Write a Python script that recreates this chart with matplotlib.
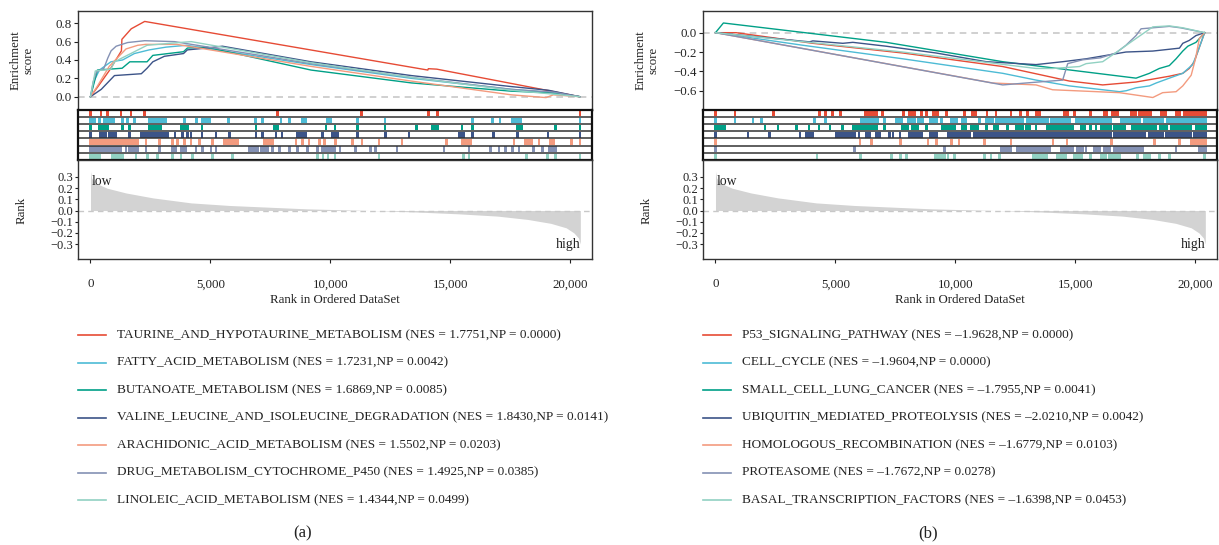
import matplotlib
matplotlib.use("Agg")
import matplotlib.pyplot as plt
from matplotlib.lines import Line2D
import numpy as np

plt.rcParams["font.family"] = ["Liberation Serif", "DejaVu Serif"]

# colours (npg palette), one per gene set, top row first
colors = ['#E64B35', '#4DBBD5', '#00A087', '#3C5488', '#F39B7F', '#8491B4', '#91D1C2']

# ranked list metric (same list for both)
rank_x = [0, 50, 200, 690, 1480, 2600, 4200, 5800, 7400, 9000, 10580, 12180,
          13770, 15370, 16970, 18240, 19200, 19840, 20160, 20350, 20430]
rank_y = [0.35, 0.29, 0.246, 0.20, 0.157, 0.113, 0.068, 0.045, 0.030, 0.015, 0.006,
          -0.003, -0.015, -0.03, -0.05, -0.08, -0.115, -0.155, -0.20, -0.245, -0.30]

xticks = [0, 5000, 10000, 15000, 20000]
xticklabels = ['0', '5,000', '10,000', '15,000', '20,000']

# ---------------- panel (a) ----------------
a_names = ['TAURINE_AND_HYPOTAURINE_METABOLISM', 'FATTY_ACID_METABOLISM',
           'BUTANOATE_METABOLISM', 'VALINE_LEUCINE_AND_ISOLEUCINE_DEGRADATION',
           'ARACHIDONIC_ACID_METABOLISM', 'DRUG_METABOLISM_CYTOCHROME_P450',
           'LINOLEIC_ACID_METABOLISM']
a_nes = [1.7751, 1.7231, 1.6869, 1.8430, 1.5502, 1.4925, 1.4344]
a_np = [0.0000, 0.0042, 0.0085, 0.0141, 0.0203, 0.0385, 0.0499]

a_es_x = [
    [0, 310, 800, 1290, 1310, 1700, 2260, 14070, 14090, 14440, 17830, 20400],
    [0, 150, 370, 850, 1340, 1830, 2450, 3150, 4000, 9200, 13380, 17550, 19400, 20400],
    [0, 290, 1320, 1640, 2360, 2600, 3880, 4040, 4840, 9200, 13380, 17550, 19400, 20400],
    [0, 450, 1000, 2120, 2360, 2600, 3080, 3880, 4040, 4840, 5500, 9200, 13380, 17550, 19100, 20400],
    [0, 300, 780, 1480, 1970, 2300, 3600, 9200, 13380, 17550, 19000, 19300, 20400],
    [0, 110, 250, 560, 720, 860, 1070, 1550, 2260, 3500, 9200, 13380, 17550, 19300, 20400],
    [0, 200, 850, 1000, 2360, 3700, 4200, 9200, 13380, 17550, 19200, 20400],
]
a_es_y = [
    [0, 0.11, 0.29, 0.50, 0.625, 0.74, 0.82, 0.29, 0.305, 0.30, 0.13, 0.0],
    [0, 0.17, 0.29, 0.38, 0.40, 0.47, 0.51, 0.54, 0.56, 0.35, 0.20, 0.08, 0.04, 0.0],
    [0, 0.29, 0.31, 0.38, 0.38, 0.45, 0.49, 0.53, 0.54, 0.29, 0.15, 0.06, 0.04, 0.0],
    [0, 0.08, 0.23, 0.25, 0.31, 0.38, 0.44, 0.47, 0.51, 0.53, 0.55, 0.38, 0.23, 0.11, 0.07, 0.0],
    [0, 0.12, 0.33, 0.52, 0.56, 0.57, 0.57, 0.33, 0.17, 0.02, -0.01, 0.02, 0.0],
    [0, 0.16, 0.27, 0.31, 0.42, 0.50, 0.55, 0.59, 0.61, 0.60, 0.36, 0.21, 0.08, 0.05, 0.0],
    [0, 0.28, 0.30, 0.38, 0.56, 0.59, 0.60, 0.37, 0.21, 0.07, 0.03, 0.0],
]

# hit positions as (start, end) ranges in the ranked list
a_hits = [
    [(0, 0), (440, 440), (720, 720), (1270, 1270), (1690, 1690), (2240, 2240), (7810, 7810),
     (11290, 11290), (14090, 14090), (14460, 14460), (20410, 20410)],
    [(0, 160), (370, 370), (575, 855), (950, 950), (1340, 1340), (1550, 1550), (1830, 1830),
     (2450, 3150), (3910, 3910), (4430, 4430), (4680, 4960), (5760, 5760), (6870, 6870),
     (7180, 7180), (7940, 7940), (8290, 8290), (8850, 8990), (9890, 10030), (11130, 11130),
     (12280, 12280), (15920, 15920), (16780, 16780), (17080, 17080), (17590, 17940), (20410, 20410)],
    [(0, 0), (370, 720), (1340, 1340), (1620, 1620), (2450, 2940), (3770, 4050), (4650, 4650),
     (6900, 6900), (7660, 7810), (9820, 9820), (10200, 10200), (11130, 11130), (12280, 12280),
     (13600, 13600), (14250, 14490), (15500, 15500), (15920, 15920), (17800, 18000),
     (19400, 19400), (20410, 20410)],
    [(0, 0), (400, 650), (790, 1040), (1620, 1620), (2110, 2660), (2730, 3080), (3220, 3220),
     (3520, 3520), (3850, 3850), (4050, 4050), (4190, 4190), (4650, 4650), (5230, 5230),
     (5790, 5790), (6900, 6900), (7180, 7180), (7740, 7740), (7990, 7990), (8640, 8990),
     (9680, 9680), (10100, 10320), (11130, 11130), (12310, 12310), (13280, 13280),
     (15370, 15570), (15920, 15920), (16800, 16800), (17800, 17800), (19080, 19080), (20410, 20410)],
    [(0, 780), (860, 1470), (1520, 1970), (2310, 2310), (2870, 2870), (3430, 3430), (3640, 3640),
     (3910, 3910), (4190, 4190), (4540, 4540), (5100, 5100), (5580, 6140), (7250, 7600),
     (8570, 8570), (8850, 8850), (9120, 9120), (9540, 9540), (9750, 9750), (10210, 10210),
     (10920, 10920), (11330, 11330), (12030, 12030), (13000, 13000), (14850, 14850),
     (15500, 15850), (17660, 17660), (18150, 18420), (18700, 18700), (19190, 19330),
     (20050, 20050), (20410, 20410)],
    [(0, 780), (860, 1270), (1480, 1480), (1620, 1970), (2310, 2310), (2870, 2870), (3430, 3570),
     (3770, 3980), (4400, 4400), (4680, 4680), (5030, 5030), (5230, 5230), (6620, 6970),
     (7110, 7390), (7600, 7600), (7870, 7870), (8290, 8290), (8640, 8640), (9060, 9060),
     (9470, 9470), (9650, 10170), (10400, 10400), (11060, 11060), (11680, 11680), (11890, 11890),
     (12790, 12790), (14740, 14740), (15780, 15780), (16690, 16690), (17040, 17040),
     (17310, 17310), (17590, 17590), (17870, 17870), (18490, 18490), (18840, 18840), (19120, 19400)],
    [(0, 370), (930, 1340), (1900, 1900), (2390, 2390), (2800, 2800), (3430, 3430), (3770, 3770),
     (4260, 4260), (5100, 5100), (5930, 5930), (9470, 9470), (9700, 9700), (9900, 9900),
     (10200, 10200), (12030, 12030), (15570, 15570), (15780, 15780), (18190, 18190),
     (19050, 19050), (19400, 19400), (20410, 20410)],
]

# ---------------- panel (b) ----------------
b_names = ['P53_SIGNALING_PATHWAY', 'CELL_CYCLE', 'SMALL_CELL_LUNG_CANCER',
           'UBIQUITIN_MEDIATED_PROTEOLYSIS', 'HOMOLOGOUS_RECOMBINATION', 'PROTEASOME',
           'BASAL_TRANSCRIPTION_FACTORS']
b_nes = [-1.9628, -1.9604, -1.7955, -2.0210, -1.6779, -1.7672, -1.6398]
b_np = [0.0000, 0.0000, 0.0041, 0.0042, 0.0103, 0.0278, 0.0453]

b_es_x = [
    [0, 860, 4060, 7810, 11980, 14760, 16150, 17540, 18930, 19490, 19760, 19970, 20110, 20400],
    [0, 3640, 7810, 11980, 13370, 14760, 16850, 17130, 17540, 18100, 18380, 18930, 19490,
     19900, 20110, 20400],
    [0, 330, 7120, 11980, 17540, 18100, 18510, 18930, 19210, 19490, 19700, 20040, 20400],
    [0, 3920, 4060, 5310, 5730, 7120, 9200, 11290, 13370, 14480, 15460, 17120, 18240, 19350,
     19490, 19760, 20040, 20400],
    [0, 11560, 13370, 14060, 16850, 18240, 18650, 19210, 19490, 19840, 20020, 20180, 20400],
    [0, 11980, 12950, 14480, 14690, 15320, 16060, 16700, 17120, 17540, 17750, 18930, 19400, 20400],
    [0, 7810, 13370, 14070, 15180, 15460, 16150, 16850, 17540, 18240, 18930, 19500, 20400],
]
b_es_y = [
    [0, 0, -0.11, -0.21, -0.35, -0.50, -0.54, -0.51, -0.45, -0.42, -0.37, -0.30, -0.20, 0.0],
    [0, -0.13, -0.27, -0.42, -0.49, -0.55, -0.61, -0.60, -0.57, -0.55, -0.52, -0.47, -0.42,
     -0.33, -0.20, 0.0],
    [0, 0.10, -0.10, -0.30, -0.47, -0.42, -0.37, -0.34, -0.27, -0.19, -0.14, -0.10, 0.0],
    [0, -0.095, -0.085, -0.11, -0.10, -0.14, -0.21, -0.30, -0.33, -0.30, -0.27, -0.20, -0.19,
     -0.16, -0.11, -0.08, -0.03, 0.0],
    [0, -0.52, -0.54, -0.59, -0.62, -0.67, -0.62, -0.61, -0.55, -0.44, -0.27, -0.06, 0.0],
    [0, -0.54, -0.52, -0.49, -0.32, -0.28, -0.26, -0.21, -0.13, -0.03, 0.04, 0.065, 0.05, 0.0],
    [0, -0.20, -0.37, -0.37, -0.35, -0.32, -0.30, -0.18, -0.06, 0.06, 0.07, 0.05, 0.0],
]

b_hits = [
    [(0, 0), (810, 810), (2430, 2430), (4350, 4350), (4600, 4600), (4880, 4880), (5210, 5210),
     (6230, 6710), (6960, 6960), (7850, 7850), (8070, 8310), (8590, 8590), (8800, 8800),
     (9070, 9280), (9630, 9630), (10380, 10380), (10730, 10870), (11330, 11330), (11700, 11700),
     (12330, 12330), (12720, 12720), (13020, 13020), (13370, 13510), (14550, 14690),
     (14970, 14970), (15640, 15640), (16220, 16330), (16570, 16780), (17330, 17540),
     (17680, 17890), (17960, 18160), (18580, 18790), (19210, 19350), (19560, 20430)],
    [(0, 0), (810, 810), (1570, 1570), (1920, 1920), (4140, 4140), (4600, 4600), (6090, 6230),
     (6300, 6440), (6510, 6780), (7060, 7060), (7550, 7760), (8030, 8310), (8450, 8660),
     (8940, 9220), (9420, 9420), (9840, 10050), (10310, 10450), (11010, 11010), (11290, 11560),
     (11700, 12540), (12610, 12810), (13020, 13860), (14000, 14210), (14250, 14760),
     (15040, 15180), (15250, 15810), (15870, 16220), (16290, 16500), (16910, 17680),
     (17890, 18650), (18860, 20430)],
    [(0, 390), (2060, 2060), (2610, 2610), (3380, 3380), (3900, 3900), (4320, 4320), (4770, 4770),
     (5300, 5300), (5740, 5880), (5990, 6160), (6300, 6710), (7060, 7060), (7800, 8030),
     (8220, 8450), (8800, 8800), (9470, 9700), (9800, 9980), (10310, 10450), (10660, 10940),
     (11290, 11290), (11630, 11770), (12190, 12190), (12540, 12810), (12950, 13090),
     (13370, 13370), (13860, 14900), (15250, 15390), (15640, 15640), (15870, 15870),
     (16080, 16220), (16290, 16500), (16640, 17050), (17400, 17890), (18030, 18370),
     (18550, 18830), (19000, 19830), (20040, 20430)],
    [(0, 0), (1360, 1360), (2260, 2260), (3520, 3520), (3770, 4070), (5050, 5810), (5990, 5990),
     (6300, 6440), (6710, 6850), (7270, 7270), (7410, 7410), (7690, 7690), (8070, 8590),
     (8940, 9220), (9700, 10520), (10590, 10590), (10800, 11630), (11740, 13090), (13230, 15250),
     (15360, 16500), (16640, 16750), (16850, 17050), (17190, 17890), (18100, 18100),
     (18240, 18650), (18790, 19140), (19280, 19830), (19980, 20430)],
    [(0, 0), (6020, 6020), (6510, 6510), (7710, 7710), (8870, 8870), (9220, 9220), (9840, 9840),
     (10160, 10160), (11220, 11220), (12330, 12330), (14070, 14070), (14660, 14660),
     (16530, 16530), (18310, 18310), (19350, 19350), (19830, 20430)],
    [(0, 0), (5810, 5810), (9560, 9560), (11910, 12330), (12580, 12680), (12810, 13930),
     (14440, 14900), (15080, 15320), (15450, 15450), (15810, 16010), (16220, 16430),
     (16640, 17050), (17190, 17820), (19210, 19210), (20180, 20430)],
    [(0, 0), (4240, 4240), (6050, 6050), (7340, 7340), (7710, 7710), (7960, 7960), (9150, 9560),
     (9700, 9700), (9980, 9980), (11220, 11220), (11490, 11490), (11840, 11840), (13270, 13830),
     (14250, 14530), (14620, 14620), (14970, 15280), (15640, 15640), (16080, 16290),
     (16430, 16850), (17610, 17610), (17890, 18100), (18520, 18520), (18930, 18930),
     (20390, 20390)],
]

W, H = 1219, 545
fig = plt.figure(figsize=(W / 100, H / 100), dpi=100)


def box(x0, y0, x1, y1):
    # pixel box (from top-left) -> figure fraction
    return [x0 / W, 1 - y1 / H, (x1 - x0) / W, (y1 - y0) / H]


XLIM = (-521, 20917)
FS = 9.3
edge = '#333333'
txt = '#222222'


def panel(x0, es_x, es_y, hits, names, nes, nps, es_lim, es_ticks, tag):
    x1 = x0 + 514
    ax_es = fig.add_axes(box(x0, 10.7, x1, 109.7))
    ax_hit = fig.add_axes(box(x0, 109.7, x1, 160))
    ax_rk = fig.add_axes(box(x0, 160, x1, 259))

    # running enrichment score
    ax_es.axhline(0, color='#c8c8c8', lw=1.2, ls=(0, (4, 3)), zorder=1)
    for i in range(len(names)):
        ax_es.plot(es_x[i], es_y[i], color=colors[i], lw=1.0, zorder=3)
    ax_es.set_xlim(XLIM)
    ax_es.set_ylim(es_lim)
    ax_es.set_yticks(es_ticks)
    ax_es.set_xticks([])
    ax_es.tick_params(axis='y', length=3, width=0.8, pad=1.5, labelsize=FS, colors=txt)
    for s in ax_es.spines.values():
        s.set_color(edge)
        s.set_linewidth(1.0)

    # hit ticks, one row per gene set
    n = len(names)
    for i in range(n):
        yb = n - 1 - i
        segs = [(s - 55, e - s + 110) for s, e in hits[i]]
        ax_hit.broken_barh(segs, (yb + 0.12, 0.76), facecolors=colors[i], lw=0)
    for k in range(1, n):
        ax_hit.axhline(k, color=edge, lw=1.1)
    ax_hit.set_xlim(XLIM)
    ax_hit.set_ylim(0, n)
    ax_hit.set_xticks([])
    ax_hit.set_yticks([])
    for s in ax_hit.spines.values():
        s.set_color('#111111')
        s.set_linewidth(1.6)

    # ranked list metric
    ax_rk.fill_between(rank_x, rank_y, 0, color='#d3d3d3', lw=0)
    ax_rk.axhline(0, color='#c8c8c8', lw=1.0, ls=(0, (4, 3)))
    ax_rk.text(60, 0.26, 'low', fontsize=FS + 0.5, ha='left', va='center', color=txt)
    ax_rk.text(20430, -0.30, 'high', fontsize=FS + 0.5, ha='right', va='center', color=txt)
    ax_rk.set_xlim(XLIM)
    ax_rk.set_ylim(-0.434, 0.452)
    ax_rk.set_yticks([0.3, 0.2, 0.1, 0.0, -0.1, -0.2, -0.3])
    ax_rk.set_xticks(xticks)
    ax_rk.set_xticklabels(xticklabels)
    ax_rk.tick_params(axis='y', length=2, width=0.8, pad=1.5, labelsize=FS - 0.3, colors=txt)
    ax_rk.tick_params(axis='x', length=3, width=0.8, pad=11, labelsize=FS, colors=txt)
    for s in ax_rk.spines.values():
        s.set_color(edge)
        s.set_linewidth(1.0)

    # axis titles
    fig.text((x0 - 56) / W, 1 - 60 / H, 'Enrichment\nscore', rotation=90, ha='center',
             va='center', fontsize=FS, color=txt, linespacing=1.1)
    fig.text((x0 - 56) / W, 1 - 210 / H, 'Rank', rotation=90, ha='center', va='center',
             fontsize=FS, color=txt)
    fig.text((x0 + 257) / W, 1 - 300 / H, 'Rank in Ordered DataSet', ha='center',
             va='center', fontsize=FS, color=txt)

    # legend
    for i in range(n):
        y = 1 - (335 + 27.5 * i) / H
        fig.add_artist(Line2D([x0 / W, (x0 + 28) / W], [y, y], color=colors[i], lw=1.2,
                              transform=fig.transFigure))
        lab = '%s (NES = %.4f,NP = %.4f)' % (names[i], nes[i], nps[i])
        fig.text((x0 + 39) / W, y, lab.replace('-', '–'), ha='left', va='center',
                 fontsize=FS + 0.2, color=txt)
    fig.text((x0 + 225) / W, 1 - 533 / H, tag, ha='center', va='center', fontsize=12,
             color=txt)


panel(78, a_es_x, a_es_y, a_hits, a_names, a_nes, a_np, (-0.142, 0.937),
      [0.0, 0.2, 0.4, 0.6, 0.8], '(a)')
panel(703, b_es_x, b_es_y, b_hits, b_names, b_nes, b_np, (-0.796, 0.227),
      [-0.6, -0.4, -0.2, 0.0], '(b)')

fig.savefig('out.png', dpi=100)
